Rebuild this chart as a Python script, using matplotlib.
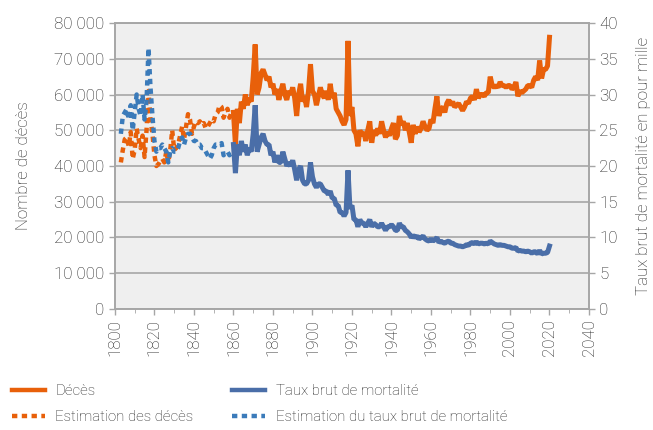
import matplotlib
matplotlib.use("Agg")
import matplotlib.pyplot as plt
from matplotlib.ticker import FuncFormatter, MultipleLocator
from matplotlib.lines import Line2D
import numpy as np

# Données
annees_est = list(range(1803, 1861))
deces_est = [41.0, 44.5, 47.5, 48.0, 45.5, 49.5, 42.0, 44.5, 50.5, 47.5,
             45.0, 48.5, 42.5, 50.0, 61.0, 53.0, 49.0, 43.0, 40.0, 40.5,
             41.5, 42.0, 41.0, 44.0, 41.0, 44.5, 50.0, 44.5, 45.0, 46.0,
             48.5, 51.0, 47.5, 51.0, 54.5, 53.0, 49.0, 51.0, 52.5, 52.0,
             52.5, 51.5, 52.0, 50.5, 51.0, 52.0, 53.0, 52.5, 54.5, 55.0,
             57.0, 56.5, 53.5, 55.0, 56.0, 53.5, 55.0, 55.0]
taux_est = [24.5, 27.0, 27.5, 28.0, 26.5, 28.5, 25.0, 27.5, 30.0, 28.0,
            27.0, 30.0, 26.5, 29.0, 36.5, 31.0, 27.0, 23.5, 22.0, 22.5,
            22.5, 23.0, 22.5, 22.0, 20.5, 22.0, 22.5, 22.0, 22.0, 22.5,
            23.5, 24.0, 23.0, 24.0, 24.5, 24.5, 24.0, 23.5, 23.5, 23.0,
            23.0, 22.5, 22.5, 22.0, 21.5, 21.0, 21.5, 22.5, 23.0, 23.0,
            23.0, 23.2, 21.5, 21.8, 22.0, 21.5, 21.8, 21.5]

annees = list(range(1860, 2021))
deces = [55.0, 46.0, 56.0, 52.0, 58.0, 56.0, 60.0, 57.0, 59.0, 58.0,   # 1860
         65.0, 74.0, 60.0, 62.0, 66.0, 67.0, 65.5, 64.0, 65.0, 62.0,   # 1870
         63.0, 60.0, 61.5, 58.5, 61.0, 63.0, 60.0, 58.5, 61.0, 60.0,   # 1880
         62.0, 59.0, 54.0, 60.0, 63.0, 58.0, 59.5, 56.5, 61.0, 68.5,   # 1890
         61.0, 60.0, 57.0, 59.5, 62.0, 60.0, 59.0, 61.0, 58.5, 63.0,   # 1900
         59.0, 60.5, 56.0, 55.0, 54.0, 52.5, 51.5, 53.0, 75.0, 54.0,   # 1910
         56.5, 50.0, 49.0, 45.5, 50.0, 48.5, 49.5, 47.0, 50.0, 52.5,   # 1920
         46.5, 50.0, 48.5, 50.5, 49.0, 52.5, 50.0, 48.0, 49.5, 48.5,   # 1930
         50.5, 52.0, 47.5, 48.5, 54.0, 51.5, 52.5, 50.0, 52.0, 49.5,   # 1940
         46.5, 51.5, 49.0, 51.0, 49.5, 50.5, 52.5, 51.0, 50.0, 50.5,   # 1950
         53.0, 52.0, 56.0, 59.5, 54.0, 56.0, 56.5, 55.0, 57.5, 58.5,   # 1960
         57.0, 58.0, 56.5, 57.0, 57.5, 56.5, 55.5, 56.5, 58.0, 57.5,   # 1970
         59.0, 59.5, 58.5, 61.5, 59.0, 60.0, 60.0, 59.5, 60.5, 60.5,   # 1980
         65.0, 62.5, 62.0, 62.5, 62.0, 63.5, 62.5, 62.5, 62.0, 62.5,   # 1990
         62.5, 61.5, 62.0, 63.5, 59.5, 61.0, 60.5, 61.0, 61.5, 62.5,   # 2000
         62.5, 62.0, 64.0, 65.0, 64.0, 69.5, 64.5, 67.0, 67.0, 68.0,   # 2010
         76.0]
taux = [23.0, 19.0, 23.0, 21.5, 23.5, 22.0, 23.0, 21.5, 22.5, 22.0,
        24.5, 28.5, 22.0, 23.0, 24.0, 24.5, 23.5, 23.0, 23.0, 21.5,
        22.0, 20.5, 21.5, 20.5, 20.5, 22.0, 21.0, 20.0, 20.5, 20.0,
        20.8, 19.5, 18.0, 19.5, 20.0, 18.0, 17.5, 17.5, 18.0, 20.5,
        18.5, 17.5, 17.0, 17.5, 17.5, 17.0, 16.5, 16.5, 16.0, 16.5,
        15.5, 15.5, 14.5, 14.5, 13.5, 13.5, 13.0, 13.5, 19.4, 14.0,
        14.5, 12.5, 12.5, 11.5, 12.5, 12.0, 12.0, 11.5, 12.0, 12.5,
        11.5, 12.0, 11.8, 11.5, 11.5, 12.0, 11.5, 11.0, 11.5, 11.5,
        11.8, 11.5, 11.0, 11.0, 12.0, 11.5, 11.5, 11.0, 10.8, 10.5,
        10.0, 10.3, 10.0, 10.2, 9.8, 10.0, 10.2, 9.8, 9.6, 9.5,
        9.8, 9.5, 9.7, 10.0, 9.3, 9.5, 9.3, 9.2, 9.4, 9.5,
        9.2, 9.2, 9.0, 8.9, 8.8, 8.8, 8.7, 8.8, 9.0, 8.9,
        9.2, 9.3, 9.1, 9.4, 9.1, 9.2, 9.2, 9.1, 9.2, 9.1,
        9.5, 9.3, 9.1, 9.0, 8.9, 9.0, 8.9, 8.9, 8.8, 8.7,
        8.7, 8.5, 8.5, 8.6, 8.1, 8.2, 8.1, 8.1, 8.0, 8.1,
        8.0, 7.8, 8.0, 8.0, 7.7, 8.2, 7.7, 7.8, 7.8, 7.9,
        8.8]

orange = '#e8600a'
bleu = '#4a6ea8'
bleu_est = '#3b7bba'
gris_txt = '#222222'
gris_axe = '#a6a6a6'

plt.rcParams['font.family'] = ['Roboto', 'DejaVu Sans']
plt.rcParams['font.weight'] = 'light'
plt.rcParams['axes.labelweight'] = 'light'

fig = plt.figure(figsize=(6.53, 4.30), dpi=100)
ax = fig.add_axes([0.176, 0.2814, 0.726, 0.6651])
ax.set_facecolor('#efefef')
ax2 = ax.twinx()

pointille = (0, (1.2, 1.0))
ax.plot(annees_est, np.array(deces_est) * 1000, color=orange, lw=3.2, ls=pointille)
ax.plot(annees, np.array(deces) * 1000, color=orange, lw=3.6, solid_joinstyle='bevel')
ax2.plot(annees_est, taux_est, color=bleu_est, lw=3.2, ls=pointille)
ax2.plot(annees, taux, color=bleu, lw=3.6, solid_joinstyle='bevel')

ax.set_xlim(1800, 2040)
ax.set_ylim(0, 80000)
ax2.set_ylim(0, 40)
ax.xaxis.set_major_locator(MultipleLocator(20))
ax.xaxis.set_minor_locator(MultipleLocator(10))
ax.yaxis.set_major_locator(MultipleLocator(10000))
ax2.yaxis.set_major_locator(MultipleLocator(5))
ax.yaxis.set_major_formatter(FuncFormatter(lambda v, p: f"{int(v):,}".replace(',', ' ')))

ax.grid(axis='y', color=gris_axe, lw=1.2)
ax.set_axisbelow(True)
for a in (ax, ax2):
    for s in a.spines.values():
        s.set_color(gris_axe)
        s.set_linewidth(1.2)
    a.tick_params(colors=gris_axe, labelcolor=gris_txt, labelsize=12.2, length=4, width=1)
ax.tick_params(axis='x', which='minor', colors=gris_axe, length=3)
ax.tick_params(axis='x', labelrotation=90)

ax.set_ylabel('Nombre de décès', fontsize=12.2, color=gris_txt, labelpad=17)
ax2.set_ylabel('Taux brut de mortalité en pour mille', fontsize=12.2, color=gris_txt, labelpad=13)

poignees = [
    Line2D([], [], color=orange, lw=3.2),
    Line2D([], [], color=orange, lw=3.2, ls=pointille),
    Line2D([], [], color=bleu, lw=3.2),
    Line2D([], [], color=bleu_est, lw=3.2, ls=pointille),
]
etiquettes = ['Décès', 'Estimation des décès', 'Taux brut de mortalité',
              'Estimation du taux brut de mortalité']
fig.legend(poignees, etiquettes, ncol=2, loc='lower left', bbox_to_anchor=(-0.003, -0.018),
           frameon=False, fontsize=10.8, labelcolor=gris_txt, handlelength=2.2,
           handletextpad=0.7, columnspacing=2.6, labelspacing=0.8)

fig.savefig('out.png', dpi=100)
